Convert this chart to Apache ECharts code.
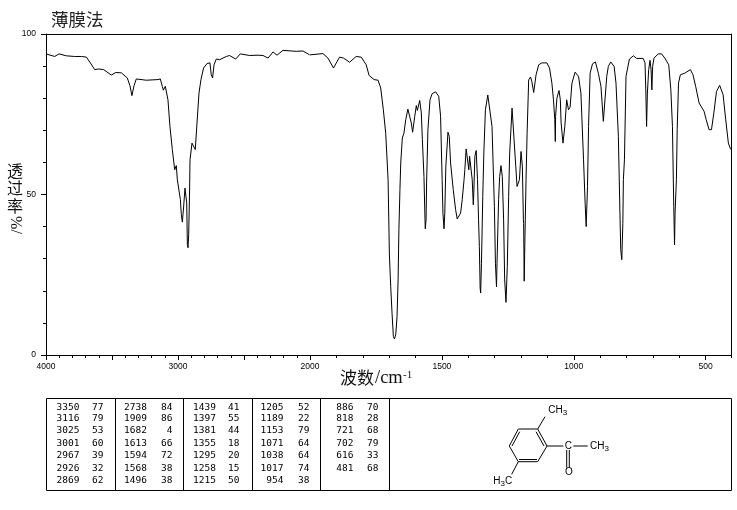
<!DOCTYPE html>
<html><head><meta charset="utf-8">
<style>html,body{margin:0;padding:0;background:#fff}#c{width:737px;height:510px}</style>
<script src="https://cdn.jsdelivr.net/npm/echarts@6/dist/echarts.min.js"></script>
</head><body><div id="c"></div>
<script>
const titleText = '薄膜法';
const xLongLeft = [4000,3500,3000,2500,2000];
const xLabelLeft = [4000,3000,2000];
const xShortLeft = [3900,3800,3700,3600,3400,3300,3200,3100,2900,2800,2700,2600,2400,2300,2200,2100];
const xLongRight = [2000,1500,1000,500];
const xLabelRight = [1500,1000,500];
const xShortRight = [1900,1800,1700,1600,1400,1300,1200,1100,900,800,700,600,404];
const yLong = [0,50,100];
const yShort = [10,20,30,40,60,70,80,90];
const wavenumbers = [4000,3985,3934,3902,3846,3783,3732,3694,3664,3631,3601,3563,3505,3472,3429,3384,3364,3349,3333,3316,3240,3152,3134,3119,3111,3096,3086,3076,3061,3043,3025,3013,3005,2993,2982,2975,2967,2957,2947,2937,2934,2929,2924,2919,2912,2909,2894,2881,2869,2856,2841,2826,2806,2780,2758,2748,2738,2727,2710,2684,2634,2609,2563,2528,2457,2394,2356,2318,2280,2250,2205,2104,2053,2003,2000,
1951,1932,1911,1888,1873,1850,1825,1806,1787,1776,1770,1757,1742,1732,1722,1713,1704,1699,1694,1689,1684,1680,1675,1670,1666,1663,1659,1656,1650,1644,1637,1629,1622,1616,1611,1603,1597,1593,1584,1578,1574,1568,1564,1563,1560,1558,1553,1545,1537,1524,1512,1505,1499,1496,1492,1489,1485,1477,1472,1467,1457,1448,1442,1436,1429,1423,1416,1413,1408,1402,1398,1395,1389,1385,1381,1379,1375,1370,1365,1361,1358,1355,1353,1350,1345,1341,1335,1326,1319,1310,1301,1297,1293,1291,1285,1281,1276,1271,1266,1262,1257,1255,1252,1247,1243,1234,1228,1220,1215,1206,1200,1195,1191,1190,1188,1185,1181,1177,1171,1164,1159,1152,1143,1133,1121,1102,1092,1083,1077,1072,1070,1069,1064,1056,1051,1048,1041,1039,1034,1027,1020,1014,1007,995,982,973,963,957,953,948,944,938,929,918,907,897,888,881,875,869,860,847,840,831,825,822,818,814,812,808,802,789,774,762,737,730,727,724,721,716,711,707,704,701,696,680,667,655,640,632,626,621,618,616,611,608,603,596,579,558,548,538,525,506,498,487,478,469,459,447,434,424,414,406,404];
const transmittance = [93.8,93.3,93.0,93.8,93.2,93,93,92.8,91,88.9,89.1,88.9,87.2,88,87.9,86.3,83.9,80.8,83.9,86,85.6,85.8,86,83.7,82.5,83.7,83.2,79.5,71.2,64,57.7,59,54.6,54,48.4,43.8,41.4,46.4,52,51.5,47.4,34.4,33.4,37.5,52,60.8,66,66.2,64,72.3,81.6,85.8,89.4,90.8,91,87.3,86.3,90.4,92.2,92,93,93.3,92.2,93.8,93.3,93.4,93.3,92.5,94.4,93.4,94.9,94.6,94.7,93.5,93.5,
93.9,92.5,89.4,92.8,92.5,91.2,93,92.8,90.4,87.1,86.8,85.8,85.6,83.2,76.4,69.1,54.6,31.2,21.4,13,5.8,5,6.3,12,23.4,39,51.5,59.8,67.6,69.1,73.3,76.6,76.6,72.3,69.4,74.3,77.7,76.2,79.3,75.4,67.1,55.6,42.1,39.3,42.1,53.6,70.2,79.5,81.4,82,80.6,74.4,54.6,44.2,39.3,44.2,58.8,69.4,68.1,59.8,51.5,45.3,42.4,42.1,44.2,48.4,54.6,57.7,64.2,63.7,57.7,61.9,62.1,54.6,46.8,50.5,61.9,63.7,54.6,42.1,33.8,20.8,19.3,28.6,49.4,62.9,76.4,81,80.4,71.2,46.3,28.6,21.2,28.6,48.4,55.6,59,55.6,42.1,23.4,16.4,16.4,27.6,49.4,62.9,76.9,76.9,58.8,52.5,54.6,63.4,58.8,42.1,41,23,37,54.6,69.1,85.7,86.6,85.2,81.8,87.3,90.4,91,91,89.4,84.7,79.5,73.3,66.5,74.3,80,82.4,79.5,72.3,66,65.8,71.2,79.5,76.4,77.2,84.7,88.1,86.8,81.6,60.8,47.3,40,52.5,71.2,87.8,90.7,91.3,87.8,83.7,72.8,73.3,86.8,89.9,91.3,89.9,84.7,68.1,44.2,32.8,29.7,41,54.6,60.8,86.8,92.2,93.2,92.4,92.4,91,82.6,71.2,81.6,88.9,91.8,88.9,82.6,89.9,92.5,93.8,93.8,92.5,90.4,82.6,71.2,46.3,34.3,44.2,54.6,70.2,84.7,87.3,87.8,88.9,87.3,83.7,78.5,75.9,73.3,70.2,70.2,75.4,82.1,84,81.1,73.3,66,64.2,64];
const peakWn1 = [3350,3116,3025,3001,2967,2926,2869];
const peakT1 = [77,79,53,60,39,32,62];
const peakWn2 = [2738,1909,1682,1613,1594,1568,1496];
const peakT2 = [84,86,4,66,72,38,38];
const peakWn3 = [1439,1397,1381,1355,1295,1258,1215];
const peakT3 = [41,55,44,18,20,15,50];
const peakWn4 = [1205,1189,1153,1071,1038,1017,954];
const peakT4 = [52,22,79,64,64,74,38];
const peakWn5 = [886,818,721,702,616,481];
const peakT5 = [70,28,68,79,33,68];

const leftData = [], rightData = [];
wavenumbers.forEach((w,i)=>{ if(w>=2000) leftData.push([w,transmittance[i]]); if(w<=2000) rightData.push([w,transmittance[i]]); });

const tickFont = 'Liberation Sans';
const monoFont = 'DejaVu Sans Mono';
const cjk = 'Noto Sans CJK SC';
const serif = 'Liberation Serif';
const line = {lineStyle:{color:'#000',width:1}};
const plain = v => String(v);
function xAxes(grid,min,max,labels,longs,shorts){
  const base = {type:'value',gridIndex:grid,min,max,inverse:true,splitLine:{show:false}};
  return [
    {...base,position:'bottom',axisLine:{show:true,onZero:false,...line},
      axisTick:{show:true,length:5,customValues:longs,...line},
      axisLabel:{show:true,customValues:labels,formatter:plain,margin:7,fontFamily:tickFont,fontSize:8.5,color:'#000'}},
    {...base,position:'bottom',axisLine:{show:false,onZero:false},
      axisTick:{show:true,length:3,customValues:shorts,...line},axisLabel:{show:false}},
    {...base,position:'top',axisLine:{show:true,onZero:false,...line},axisTick:{show:false},axisLabel:{show:false}}
  ];
}
const g = [];
const txt = (x,y,t,o={}) => g.push({type:'text',x,y,silent:true,rotation:o.rotation||0,style:{text:t,fill:o.fill||'#000',font:o.font||('9.5px "'+monoFont+'"'),align:o.align||'right',verticalAlign:'middle'}});
const seg = (x1,y1,x2,y2) => g.push({type:'line',silent:true,shape:{x1,y1,x2,y2},style:{stroke:'#000',lineWidth:1}});

// peak table
g.push({type:'rect',silent:true,shape:{x:46.5,y:398.5,width:685,height:92},style:{fill:'none',stroke:'#000',lineWidth:1}});
[115.5,183.5,252.5,320.5,389.5].forEach(x=>seg(x,398.5,x,490.5));
const rowY = [407.3,419,430.7,443.3,456,468.3,481];
[[peakWn1,peakT1,79.5,103.5],[peakWn2,peakT2,147,172.5],[peakWn3,peakT3,216,239.5],[peakWn4,peakT4,283.5,309.5],[peakWn5,peakT5,353.5,378.5]].forEach(([w,t,xw,xt])=>{
  w.forEach((v,i)=>{ txt(xw,rowY[i],String(v)); txt(xt,rowY[i],String(t[i])); });
});

// structure
[[518.3,429,537.7,429],[537.7,429,547,446],[547,446,537.7,461.7],[537.7,461.7,518.3,461.7],[518.3,461.7,509.3,446],[509.3,446,518.3,429],
 [519.7,431.7,512,446],[536,431.7,544,446],[519,459.5,537,459.5],
 [537.7,429,545,416.7],[547,446,563.3,446],[573.3,446,587.7,446],
 [566.7,450,566.7,467.7],[569.3,450,569.3,467.7],[518.3,461.7,511.7,474.3]].forEach(s=>seg(...s));
const chem = (x,y,t,align) => g.push({type:'text',x,y,silent:true,style:{text:t,align:align||'left',verticalAlign:'middle',fill:'#000',font:'10px "Liberation Sans"',rich:{s:{fontSize:8,fontFamily:'Liberation Sans',verticalAlign:'bottom',padding:[5,0,0,0],fill:'#000'}}}});
chem(548.3,410.7,'CH{s|3}');
chem(568.3,446,'C','center');
chem(590,446,'CH{s|3}');
chem(569,472.3,'O','center');
chem(493.3,481,'H{s|3}C');

// axis texts
const cjkFont = '17px "'+cjk+'"';
const cjkSmall = '16px "'+cjk+'"';
txt(15,170.5,'透',{font:cjkSmall,align:'center',fill:'#111'});
txt(15,188,'过',{font:cjkSmall,align:'center',fill:'#111'});
txt(15,205.5,'率',{font:cjkSmall,align:'center',fill:'#111'});
txt(15,225,'%/',{font:'16px "'+serif+'"',align:'center',fill:'#111',rotation:-Math.PI/2});
txt(340,378,'波数',{font:cjkFont,align:'left',fill:'#111'});
txt(375,378,'/cm',{font:'18.5px "'+serif+'"',align:'left',fill:'#111'});
txt(403,375,'-1',{font:'11px "'+serif+'"',align:'left',fill:'#111'});

const option = {
  animation:false,
  backgroundColor:'#fff',
  title:{text:titleText,left:51,top:11,textStyle:{fontFamily:cjk,fontSize:17.5,fontWeight:'normal',color:'#222'},padding:0},
  grid:[{left:46,top:34,width:264,height:321},{left:310,top:34,width:421,height:321}],
  xAxis:[...xAxes(0,2000,4000,xLabelLeft,xLongLeft,xShortLeft),...xAxes(1,404,2000,xLabelRight,xLongRight,xShortRight)],
  yAxis:[
    {type:'value',gridIndex:0,min:0,max:100,position:'left',splitLine:{show:false},axisLine:{show:true,onZero:false,...line},
      axisTick:{show:true,length:5,customValues:yLong,...line},
      axisLabel:{show:true,customValues:yLong,formatter:plain,margin:10,fontFamily:tickFont,fontSize:8.5,color:'#000'}},
    {type:'value',gridIndex:0,min:0,max:100,position:'left',splitLine:{show:false},axisLine:{show:false,onZero:false},
      axisTick:{show:true,length:3,customValues:yShort,...line},axisLabel:{show:false}},
    {type:'value',gridIndex:1,min:0,max:100,position:'right',splitLine:{show:false},axisLine:{show:true,onZero:false,...line},
      axisTick:{show:false},axisLabel:{show:false}}
  ],
  series:[
    {type:'line',xAxisIndex:0,yAxisIndex:0,data:leftData,showSymbol:false,symbol:'none',lineStyle:{color:'#000',width:1},silent:true},
    {type:'line',xAxisIndex:3,yAxisIndex:2,data:rightData,showSymbol:false,symbol:'none',lineStyle:{color:'#000',width:1},silent:true}
  ],
  graphic:g
};
echarts.init(document.getElementById('c'),null,{renderer:'canvas'}).setOption(option);
</script></body></html>
